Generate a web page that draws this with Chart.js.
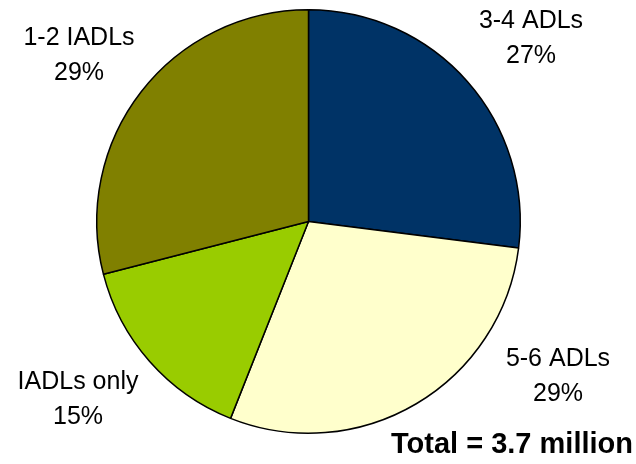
<!DOCTYPE html>
<html>
<head>
<meta charset="utf-8">
<script src="https://cdn.jsdelivr.net/npm/chart.js@4"></script>
<style>
  html, body { margin: 0; padding: 0; background: #fff; }
  #wrap { width: 636px; height: 464px; position: relative; }
</style>
</head>
<body>
<div id="wrap"><canvas id="pieChart"></canvas></div>
<script>
// カテゴリと割合 (%)
const categories = ['3-4 ADLs', '5-6 ADLs', 'IADLs only', '1-2 IADLs'];
const shares = [27, 29, 15, 29];
const sliceColors = ['#003366', '#FFFFCC', '#99CC00', '#808000'];
const totalLabel = 'Total = 3.7 million';

// ラベルの配置 (中心x, 1行目のベースライン)
const labelSpots = [
  { x: 531, y: 28 },
  { x: 558, y: 366 },
  { x: 78, y: 389 },
  { x: 79, y: 45 }
];

// 各スライスのラベルと合計を描くプラグイン
const labelPlugin = {
  id: 'sliceLabels',
  afterDraw(chart) {
    const ctx = chart.ctx;
    ctx.save();
    ctx.fillStyle = '#000';
    ctx.textAlign = 'center';
    ctx.textBaseline = 'alphabetic';
    ctx.font = '25px "Liberation Sans", Arial, sans-serif';
    chart.data.labels.forEach((label, i) => {
      const spot = labelSpots[i];
      const value = chart.data.datasets[0].data[i];
      ctx.fillText(label, spot.x, spot.y);
      ctx.fillText(value + '%', spot.x, spot.y + 35);
    });
    ctx.font = 'bold 29px "Liberation Sans", Arial, sans-serif';
    ctx.textAlign = 'right';
    ctx.fillText(totalLabel, 633, 453);
    ctx.restore();
  }
};

const ctx = document.getElementById('pieChart').getContext('2d');
const pieChart = new Chart(ctx, {
  type: 'pie',
  data: {
    labels: categories,
    datasets: [{
      data: shares,
      backgroundColor: sliceColors,
      borderColor: '#000',
      borderWidth: 1.5
    }]
  },
  options: {
    responsive: true,
    maintainAspectRatio: false,
    animation: false,
    layout: {
      padding: { top: 9, bottom: 30, left: 96, right: 115 }
    },
    plugins: {
      legend: { display: false },
      tooltip: { enabled: false }
    }
  },
  plugins: [labelPlugin]
});
</script>
</body>
</html>
